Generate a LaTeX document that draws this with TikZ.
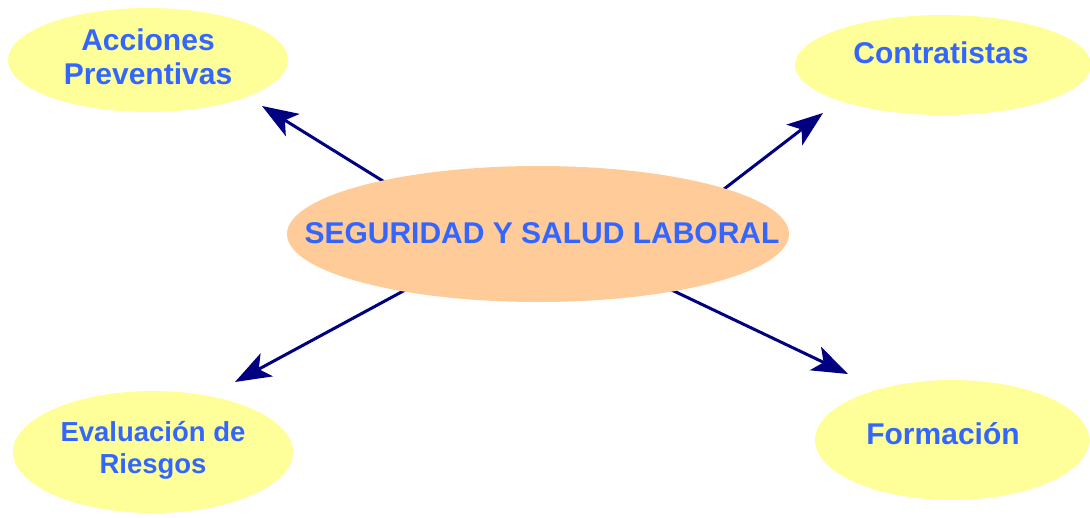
\documentclass[tikz,border=0pt]{standalone}
\usepackage{fontspec}
\setmainfont{Liberation Sans}
\usetikzlibrary{arrows.meta,backgrounds}
\definecolor{azultexto}{RGB}{51,102,255}
\definecolor{amarillo}{RGB}{255,255,153}
\definecolor{naranja}{RGB}{255,204,153}
\definecolor{marino}{RGB}{0,0,128}
\begin{document}
\begin{tikzpicture}[x=1pt,y=-1pt,
    txt/.style={font=\fontsize{30}{34}\selectfont\bfseries, text=azultexto, align=center, inner sep=0pt},
    flecha/.style={line width=3pt, draw=marino, -{Stealth[length=36pt,width=26pt,inset=9pt]}}]
    \useasboundingbox (0,0) rectangle (1090,517);
    % textos
    \node[txt] (seg) at (542,233) {SEGURIDAD Y SALUD LABORAL};
    \node[txt] (acc) at (148,57) {Acciones\\Preventivas};
    \node[txt] (con) at (941,53) {Contratistas};
    \node[txt, font=\fontsize{27.5}{32}\selectfont\bfseries] (eva) at (153,450) {Evaluación de\\Riesgos};
    \node[txt] (for) at (943,434) {Formación};
    % puntas de las flechas
    \coordinate (pacc) at (262,106);
    \coordinate (pcon) at (823,113);
    \coordinate (peva) at (235,382);
    \coordinate (pfor) at (848,374);
    \begin{pgfonlayer}{background}
        \fill[amarillo] (148,60) ellipse (140 and 52);
        \fill[amarillo] (943,65) ellipse (148 and 50);
        \fill[amarillo] (153,452) ellipse (140 and 61);
        \fill[amarillo] (952,440) ellipse (137 and 60);
        \draw[flecha] (399,191) -- (pacc);
        \draw[flecha] (711,199) -- (pcon);
        \draw[flecha] (420,282) -- (peva);
        \draw[flecha] (657,283) -- (pfor);
        \fill[naranja] (538,234) ellipse (251 and 68);
    \end{pgfonlayer}
\end{tikzpicture}
\end{document}
